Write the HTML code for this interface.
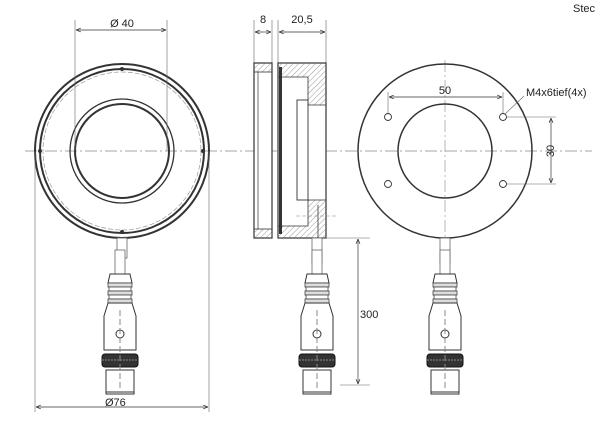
<!DOCTYPE html><html><head><style>body{margin:0;background:#fff}svg{display:block}text{font-family:"Liberation Sans",sans-serif;fill:#222}</style></head><body>
<svg width="600" height="429" viewBox="0 0 600 429" xmlns="http://www.w3.org/2000/svg">
<defs>
<marker id="a" viewBox="0 0 10 10" refX="10" refY="5" markerWidth="7" markerHeight="7" orient="auto-start-reverse"><path d="M0,1 L10,5 L0,9" fill="none" stroke="#333" stroke-width="1.5"/></marker>
<pattern id="h" width="4" height="4" patternUnits="userSpaceOnUse" patternTransform="rotate(45)"><line x1="0" y1="0" x2="0" y2="4" stroke="#999" stroke-width="1"/></pattern>
<g id="con">
<rect x="-5" y="0" width="10" height="24" fill="#fff" stroke="#666" stroke-width="0.8"/>
<path d="M-12,33 L-10,24 L10,24 L12,33 Z" fill="#fff" stroke="#333"/>
<rect x="-12" y="33" width="24" height="4" fill="#ddd" stroke="#444" stroke-width="0.8"/>
<rect x="-11" y="37" width="22" height="4" fill="#fff" stroke="#444" stroke-width="0.8"/>
<rect x="-12" y="41" width="24" height="4" fill="#ddd" stroke="#444" stroke-width="0.8"/>
<rect x="-11" y="45" width="22" height="4" fill="#fff" stroke="#444" stroke-width="0.8"/>
<rect x="-12" y="49" width="24" height="4" fill="#ddd" stroke="#444" stroke-width="0.8"/>
<path d="M-12,53 L-16,66 L-16,100 L16,100 L16,66 L12,53 Z" fill="#fff" stroke="#333"/>
<circle cx="0" cy="84" r="4" fill="#fff" stroke="#333"/>
<rect x="-18" y="104" width="36" height="13" rx="3" fill="#333" stroke="#111"/>
<line x1="-18" y1="110" x2="18" y2="110" stroke="#888" stroke-dasharray="2 1"/>
<rect x="-14" y="120" width="28" height="24" fill="#fff" stroke="#333"/>
<line x1="-14" y1="142" x2="14" y2="142" stroke="#333"/>
<line x1="0" y1="60" x2="0" y2="140" stroke="#888" stroke-dasharray="6 3"/>
</g>
</defs>
<g stroke="#333" fill="none">
<!-- centerline -->
<line x1="25" y1="151" x2="592" y2="151" stroke="#888" stroke-width="0.7" stroke-dasharray="12 3 2 3"/>
<!-- left view -->
<circle cx="122" cy="151" r="87" stroke-width="2"/>
<circle cx="122" cy="151" r="82" stroke-width="2"/>
<circle cx="122" cy="151" r="79" stroke="#999" stroke-width="0.7" stroke-dasharray="5 2"/>
<circle cx="122" cy="151" r="52" stroke-width="1.3"/>
<circle cx="122" cy="151" r="47" stroke-width="2"/>
<g fill="#333" stroke="none"><circle cx="122" cy="69" r="2"/><circle cx="40" cy="151" r="2"/><circle cx="203" cy="151" r="2"/><circle cx="122" cy="232" r="2"/></g>
<g stroke-width="0.6" stroke="#666"><line x1="75" y1="20" x2="75" y2="151"/><line x1="167" y1="20" x2="167" y2="151"/><line x1="35" y1="151" x2="35" y2="412"/><line x1="209" y1="151" x2="209" y2="412"/></g>
<line x1="76" y1="30" x2="166" y2="30" stroke-width="0.7" marker-start="url(#a)" marker-end="url(#a)"/>
<line x1="36" y1="407" x2="208" y2="407" stroke-width="0.7" marker-start="url(#a)" marker-end="url(#a)"/>
<!-- side view -->
<g stroke-width="0.6" stroke="#666"><line x1="254" y1="20" x2="254" y2="63"/><line x1="272" y1="20" x2="272" y2="63"/><line x1="278" y1="20" x2="278" y2="63"/><line x1="326" y1="20" x2="326" y2="63"/></g>
<line x1="255" y1="32" x2="271" y2="32" stroke-width="0.7" marker-start="url(#a)" marker-end="url(#a)"/>
<line x1="279" y1="32" x2="325" y2="32" stroke-width="0.7" marker-start="url(#a)" marker-end="url(#a)"/>
<rect x="254" y="63" width="18" height="175" fill="#fff" stroke-width="1.2"/>
<rect x="254" y="63" width="18" height="9" fill="url(#h)" stroke-width="0.8"/>
<rect x="254" y="229" width="18" height="9" fill="url(#h)" stroke-width="0.8"/>
<line x1="258" y1="72" x2="258" y2="229" stroke-width="0.7"/>
<rect x="278" y="63" width="48" height="175" fill="#fff" stroke-width="1.2"/>
<path d="M278,63 H326 V105 H308 V77 H278 Z" fill="url(#h)" stroke-width="0.8"/>
<path d="M278,238 H326 V200 H308 V226 H278 Z" fill="url(#h)" stroke-width="0.8"/>
<rect x="279" y="67" width="3" height="167" fill="#333" stroke="none"/>
<rect x="297" y="100" width="11" height="100" stroke-width="0.9"/>
<line x1="318" y1="205" x2="318" y2="238" stroke-width="0.8"/>
<line x1="296" y1="216" x2="336" y2="216" stroke="#888" stroke-width="0.6" stroke-dasharray="4 2"/>
<!-- right view -->
<line x1="445" y1="60" x2="445" y2="245" stroke="#888" stroke-width="0.6" stroke-dasharray="12 3 2 3"/>
<circle cx="445" cy="151" r="87" stroke-width="1.5"/>
<circle cx="445" cy="151" r="47" stroke-width="1.5"/>
<g stroke-width="0.9"><circle cx="388" cy="117" r="3.5"/><circle cx="503" cy="117" r="3.5"/><circle cx="388" cy="184" r="3.5"/><circle cx="503" cy="184" r="3.5"/></g>
<g stroke-width="0.6" stroke="#666"><line x1="388" y1="92" x2="388" y2="113"/><line x1="503" y1="92" x2="503" y2="113"/><line x1="507" y1="117" x2="556" y2="117"/><line x1="507" y1="184" x2="556" y2="184"/><line x1="505" y1="114" x2="524" y2="96"/></g>
<line x1="389" y1="97" x2="502" y2="97" stroke-width="0.7" marker-start="url(#a)" marker-end="url(#a)"/>
<line x1="551" y1="118" x2="551" y2="183" stroke-width="0.7" marker-start="url(#a)" marker-end="url(#a)"/>
<!-- 300 -->
<g stroke-width="0.6" stroke="#666"><line x1="320" y1="238" x2="370" y2="238"/><line x1="340" y1="385" x2="370" y2="385"/></g>
<line x1="358" y1="239" x2="358" y2="384" stroke-width="0.7" marker-start="url(#a)" marker-end="url(#a)"/>
<!-- cables -->
<rect x="117" y="238" width="10" height="20" fill="#fff" stroke="#666" stroke-width="0.8"/>
<rect x="312" y="238" width="10" height="26" fill="#fff" stroke="#666" stroke-width="0.8"/>
<rect x="440" y="238" width="10" height="26" fill="#fff" stroke="#666" stroke-width="0.8"/>
</g>
<use href="#con" x="120" y="250"/>
<use href="#con" x="317" y="250"/>
<use href="#con" x="445" y="250"/>
<g font-size="11">
<text x="122" y="27" text-anchor="middle">Ø 40</text>
<text x="263" y="23" text-anchor="middle">8</text>
<text x="302" y="23" text-anchor="middle">20,5</text>
<text x="445" y="94" text-anchor="middle">50</text>
<text x="526" y="96">M4x6tief(4x)</text>
<text transform="translate(554,151) rotate(-90)" text-anchor="middle">30</text>
<text x="360" y="318">300</text>
<text x="105" y="406">Ø76</text>
<text x="573" y="12">Stec</text>
</g>
</svg>
</body></html>
